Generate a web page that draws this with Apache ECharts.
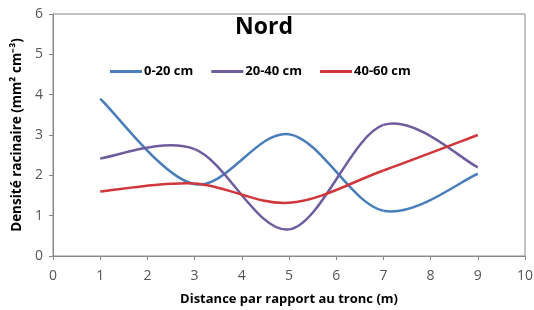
<!DOCTYPE html>
<html>
<head>
<meta charset="utf-8">
<script src="https://cdn.jsdelivr.net/npm/echarts@6/dist/echarts.min.js"></script>
<style>
  html, body { margin: 0; padding: 0; background: #fff; }
  #main { width: 534px; height: 310px; }
</style>
</head>
<body>
<div id="main"></div>
<script>
  // distances (m)
  var distances = [1, 3, 5, 7, 9];
  // densité racinaire par profondeur
  var depth0_20 = [3.9, 1.78, 3.02, 1.12, 2.04];
  var depth20_40 = [2.42, 2.65, 0.66, 3.25, 2.2];
  var depth40_60 = [1.6, 1.8, 1.32, 2.12, 3.0];
  var seriesNames = ['0-20 cm', '20-40 cm', '40-60 cm'];
  var xTicks = [0, 1, 2, 3, 4, 5, 6, 7, 8, 9, 10];
  var yTicks = [0, 1, 2, 3, 4, 5, 6];

  function pairs(vals) {
    return distances.map(function (d, i) { return [d, vals[i]]; });
  }

  // courbe lissée façon Excel (Catmull-Rom), tracée via les axes d'ECharts
  function smoothCurve(name, vals, color) {
    return {
      name: name,
      type: 'custom',
      data: pairs(vals),
      encode: { x: 0, y: 1 },
      itemStyle: { color: color },
      renderItem: function (params, api) {
        var i = params.dataIndex;
        var n = vals.length;
        if (i >= n - 1) return { type: 'group', children: [] };
        var pt = function (k) {
          k = Math.max(0, Math.min(n - 1, k));
          return api.coord([distances[k], vals[k]]);
        };
        var p0 = pt(i - 1), p1 = pt(i), p2 = pt(i + 1), p3 = pt(i + 2);
        var t = 1 / 6;
        return {
          type: 'bezierCurve',
          shape: {
            x1: p1[0], y1: p1[1],
            x2: p2[0], y2: p2[1],
            cpx1: p1[0] + (p2[0] - p0[0]) * t,
            cpy1: p1[1] + (p2[1] - p0[1]) * t,
            cpx2: p2[0] - (p3[0] - p1[0]) * t,
            cpy2: p2[1] - (p3[1] - p1[1]) * t
          },
          style: { stroke: color, fill: null, lineWidth: 2.5 }
        };
      }
    };
  }

  var myChart = echarts.init(document.getElementById('main'));
  var font = '"Open Sans", "Liberation Sans", sans-serif';
  var option = {
    animation: false,
    title: {
      text: 'Nord',
      left: 230,
      top: 11,
      textStyle: { fontFamily: font, fontSize: 23, fontWeight: 'bold', color: '#000' }
    },
    legend: {
      data: seriesNames,
      left: 105,
      top: 60,
      icon: 'rect',
      itemWidth: 32,
      itemHeight: 3,
      itemGap: 18,
      textStyle: { fontFamily: font, fontSize: 13, fontWeight: 'bold', color: '#000', padding: [0, 0, 0, -3] }
    },
    grid: {
      left: 53, right: 9, top: 14, bottom: 54,
      outerBoundsMode: 'none',
      show: true, borderColor: '#888', borderWidth: 1
    },
    xAxis: {
      type: 'value',
      min: xTicks[0],
      max: xTicks[xTicks.length - 1],
      interval: 1,
      name: 'Distance par rapport au tronc (m)',
      nameLocation: 'middle',
      nameGap: 37,
      nameTextStyle: { fontFamily: font, fontSize: 13, fontWeight: 'bold', color: '#000' },
      axisLine: { lineStyle: { color: '#888' } },
      axisTick: { show: true, length: 4, lineStyle: { color: '#888' } },
      axisLabel: { fontFamily: font, fontSize: 14, color: '#555', margin: 13 },
      splitLine: { show: false }
    },
    yAxis: {
      type: 'value',
      min: yTicks[0],
      max: yTicks[yTicks.length - 1],
      interval: 1,
      name: 'Densité racinaire (mm² cm⁻³)',
      nameLocation: 'middle',
      nameGap: 28,
      nameTextStyle: { fontFamily: font, fontSize: 13.5, fontWeight: 'bold', color: '#000' },
      axisLine: { show: true, lineStyle: { color: '#888' } },
      axisTick: { show: true, length: 4, lineStyle: { color: '#888' } },
      axisLabel: { fontFamily: font, fontSize: 14, color: '#555', margin: 10 },
      splitLine: { show: false }
    },
    series: [
      smoothCurve(seriesNames[0], depth0_20, '#4A7EBB'),
      smoothCurve(seriesNames[1], depth20_40, '#6E5C9E'),
      smoothCurve(seriesNames[2], depth40_60, '#D0363A')
    ]
  };
  myChart.setOption(option);
</script>
</body>
</html>
